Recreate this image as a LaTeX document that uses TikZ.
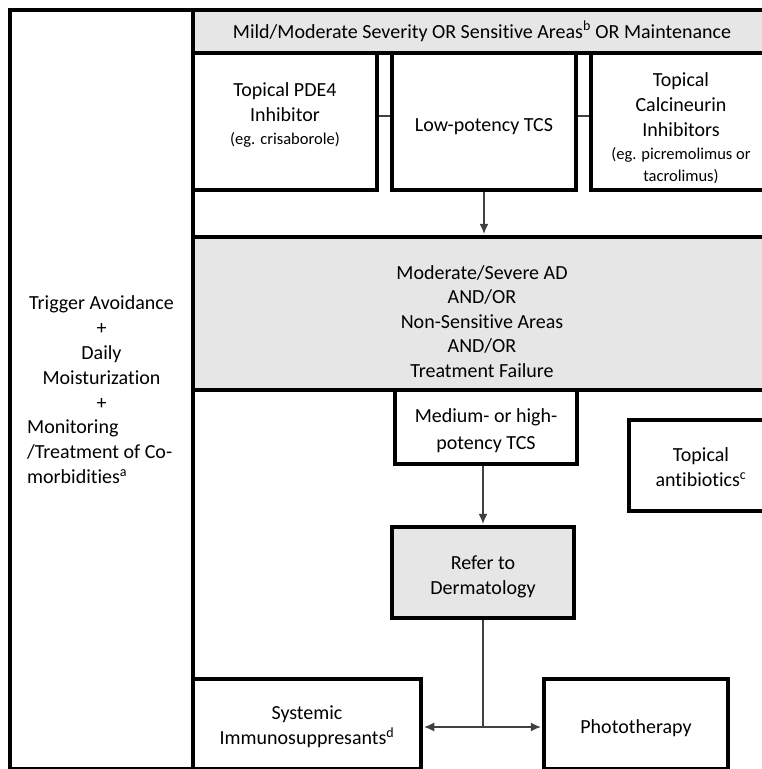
\documentclass[tikz,border=0pt]{standalone}
\usepackage{fontspec}
\setmainfont{Carlito}[Ligatures=NoCommon]
\usepackage{tikz}
\usetikzlibrary{arrows.meta}
\definecolor{boxgray}{HTML}{E6E6E6}
\definecolor{wiregray}{HTML}{404040}
\tikzset{
	box/.style={shape=rectangle, draw=black, line width=3.3pt, inner sep=0pt, align=center, font=\fontsize{20}{25}\selectfont},
	graybox/.style={box, fill=boxgray},
	txt/.style={inner sep=0pt, align=center, font=\fontsize{20}{25}\selectfont},
	wire/.style={draw=wiregray, line width=1.1pt},
	arr/.style={wire, -{Latex[length=10pt,width=9pt]}, shorten >=1.6pt},
}
\newcommand{\egtext}[1]{{\fontsize{16.5}{23}\selectfont #1}}
\begin{document}
\begin{tikzpicture}[x=1pt, y=-1pt]
				\useasboundingbox (0,0) rectangle (762,769);
				\clip (0,0) rectangle (762,769);
				\fill[white] (0,0) rectangle (762,769);
				% Paths, nodes and wires:
				\node[box, minimum width=183pt, minimum height=758.5pt](side) at (101.5, 389.25){};
				\node[txt](sidetop) at (101.5, 353){Trigger Avoidance\\+\\Daily\\Moisturization\\+};
				\node[txt, align=left, anchor=west](sidebot) at (27, 452){Monitoring\\/Treatment of Co-\\morbidities\textsuperscript{a}};
				\node[graybox, minimum width=578pt, minimum height=43pt](mild) at (482, 31.5){Mild/Moderate Severity OR Sensitive Areas\textsuperscript{b} OR Maintenance};
				\node[box, minimum width=184pt, minimum height=137pt](pde) at (285, 121.5){};
				\node[txt](pdetxt) at (285, 115){Topical PDE4\\Inhibitor\\[-2pt]\egtext{(eg. crisaborole)}};
				\node[box, minimum width=184pt, minimum height=137pt](low) at (484, 121.5){};
				\node[txt](lowtxt) at (484, 126.5){Low-potency TCS};
				\node[box, minimum width=180pt, minimum height=137pt](calc) at (681, 121.5){};
				\node[txt](calctxt) at (681, 128){Topical\\Calcineurin\\Inhibitors\\[-2pt]\egtext{(eg. picremolimus or}\\[-3pt]\egtext{tacrolimus)}};
				\node[graybox, minimum width=578pt, minimum height=153pt](modsev) at (482, 313.5){};
				\node[txt, font=\fontsize{20}{24.5}\selectfont](modtxt) at (482, 321.5){Moderate/Severe AD\\AND/OR\\Non-Sensitive Areas\\AND/OR\\Treatment Failure};
				\node[box, minimum width=182pt, minimum height=74pt](medtcs) at (486, 427){};
				\node[txt](medtxt) at (486, 431){Medium- or high-\\[2pt]potency TCS};
				\node[box, minimum width=144pt, minimum height=91pt](abx) at (701, 465.5){};
				\node[txt](abxtxt) at (701, 467.5){Topical\\antibiotics\textsuperscript{c}};
				\node[graybox, minimum width=182pt, minimum height=91pt](derm) at (483, 572.5){};
				\node[txt](dermtxt) at (483, 576.5){Refer to\\Dermatology};
				\node[box, minimum width=228pt, minimum height=89.5pt](sysimm) at (307, 723.75){};
				\node[txt](systxt) at (307, 727){Systemic\\Immunosuppresants\textsuperscript{d}};
				\node[box, minimum width=184pt, minimum height=89.5pt](photo) at (636, 723.75){};
				\node[txt](phototxt) at (636, 728.5){Phototherapy};
				\draw[wire] ([yshift=5.5pt]pde.east) -- ([yshift=5.5pt]low.west);
				\draw[wire] ([yshift=5.5pt]low.east) -- ([yshift=5.5pt]calc.west);
				\draw[arr] (low.south) -- (low.south |- modsev.north);
				\draw[arr] (derm.north |- medtcs.south) -- (derm.north);
				\draw[wire] (derm.south) -- (derm.south |- systxt) coordinate (split);
				\draw[arr] (split) -- (split -| sysimm.east);
				\draw[arr] (split) -- (split -| photo.west);
			\end{tikzpicture}
\end{document}
